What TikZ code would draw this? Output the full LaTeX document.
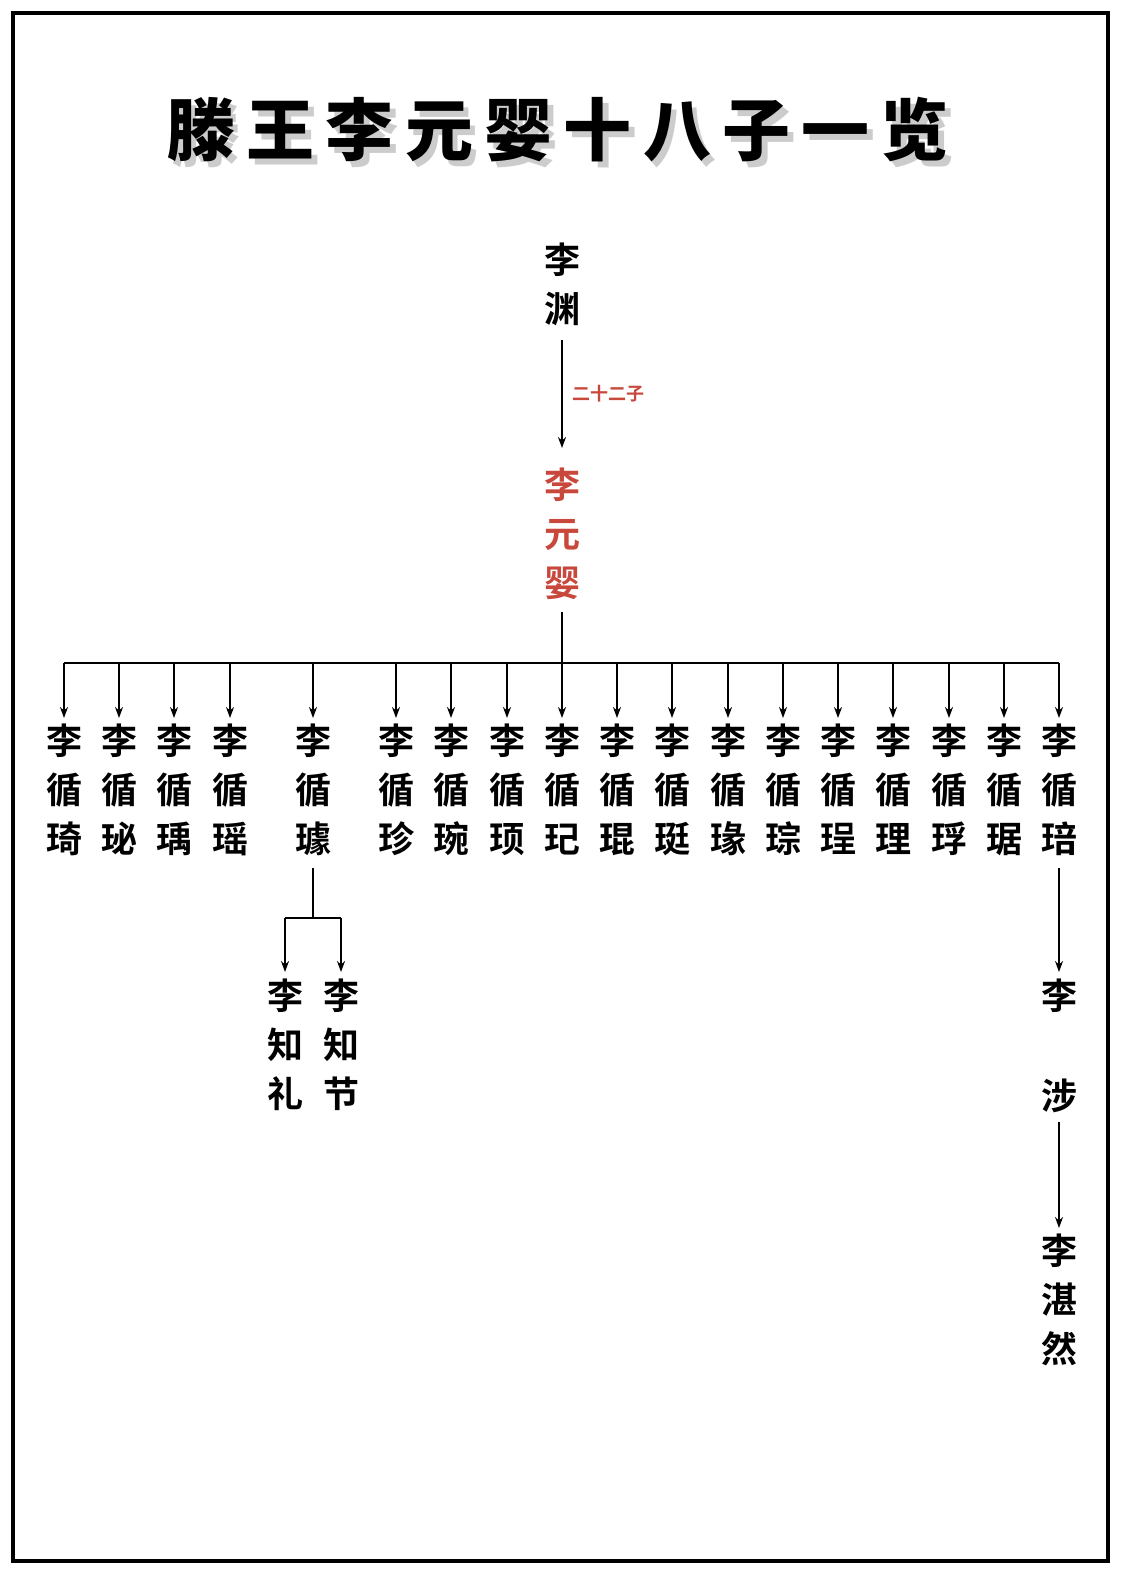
\documentclass[tikz,border=0pt]{standalone}
\usepackage{fontspec}
\newfontfamily\cjk{Noto Sans CJK SC Bold}
\newfontfamily\cjkt{Noto Sans CJK SC Black}
\usetikzlibrary{arrows.meta}
\definecolor{redn}{HTML}{C8483C}
\tikzset{
 nm/.style={font=\cjk\fontsize{36}{49}\selectfont, align=center, inner sep=0pt, anchor=north},
 ln/.style={line width=1.8pt},
 ar/.style={line width=1.8pt,-{Stealth[length=11pt,width=8pt]}}
}
\begin{document}
\begin{tikzpicture}[x=1pt,y=-1pt]
\useasboundingbox (0,0) rectangle (1125,1572);
\fill[white] (0,0) rectangle (1125,1572);
\draw[line width=4pt] (13,13) rectangle (1108,1561);
\node[font=\cjkt\fontsize{68}{70}\selectfont, text=black!20, inner sep=0pt] at (564,136) {滕\,王\,李\,元\,婴\,十\,八\,子\,一\,览};
\node (title) [font=\cjkt\fontsize{68}{70}\selectfont, inner sep=0pt] at (558,130) {滕\,王\,李\,元\,婴\,十\,八\,子\,一\,览};
\node (yuan) [nm] at (562,243) {李\\渊};
\node (yy) [nm, text=redn] at (562,468) {李\\元\\婴};
\draw[ar] (562,340) -- (562,448) node[midway, right=6pt, font=\cjk\fontsize{18}{20}\selectfont, text=redn] {二十二子};
\coordinate (bar) at (562,663);
\draw[ln] (562,612) -- (bar);
\draw[ln] (64,663) -- (1059,663);
\foreach \x/\c [count=\i] in {64/琦,119/珌,174/瑀,230/瑶,313/璩,396/珍,451/琬,507/顼,562/玘,617/琨,672/珽,728/瑑,783/琮,838/珵,893/理,949/琈,1004/琚,1059/琣}{
 \node (c\i) [nm] at (\x,724) {李\\循\\\c};
 \draw[ar] (\x,663) -- (\x,718);
}
\draw[ln] (313,868) -- (313,918);
\draw[ln] (285,918) -- (341,918);
\draw[ar] (285,918) -- (285,972);
\draw[ar] (341,918) -- (341,972);
\node (zl) [nm] at (285,979) {李\\知\\礼};
\node (zj) [nm] at (341,979) {李\\知\\节};
\draw[ar] (1059,868) -- (1059,972);
\node (s1) [nm] at (1059,979) {李};
\node (s2) [nm] at (1059,1079) {涉};
\draw[ar] (1059,1122) -- (1059,1228);
\node (zr) [nm] at (1059,1234) {李\\湛\\然};
\end{tikzpicture}
\end{document}
